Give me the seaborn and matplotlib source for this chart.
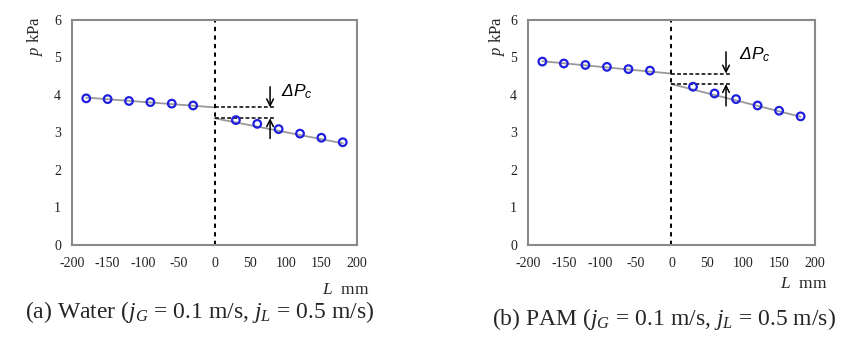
import matplotlib
matplotlib.use("Agg")
import matplotlib.pyplot as plt
import seaborn as sns
import pandas as pd

# measured points, upstream (L<0) and downstream (L>0) of the contraction
x_up = [-180, -150, -120, -90, -60, -30]
x_dn = [30, 60, 90, 120, 150, 180]
water_up = [3.91, 3.89, 3.84, 3.81, 3.77, 3.72]
water_dn = [3.33, 3.23, 3.09, 2.97, 2.86, 2.74]
pam_up = [4.89, 4.84, 4.80, 4.75, 4.69, 4.65]
pam_dn = [4.22, 4.04, 3.89, 3.72, 3.58, 3.43]

# fitted lines (end values)
fit_x_up = [-180, 0]
fit_x_dn = [0, 180]
water_fit_up = [3.93, 3.67]
water_fit_dn = [3.38, 2.71]
pam_fit_up = [4.90, 4.57]
pam_fit_dn = [4.29, 3.42]

xticks = [-200, -150, -100, -50, 0, 50, 100, 150, 200]
yticks = [0, 1, 2, 3, 4, 5, 6]

captions = [r"(a) Water ($j_G$ = 0.1 m/s, $j_L$ = 0.5 m/s)",
            r"(b) PAM ($j_G$ = 0.1 m/s, $j_L$ = 0.5 m/s)"]

sns.set_theme(style="white")
plt.rcParams["font.family"] = ["Liberation Serif", "DejaVu Serif"]
plt.rcParams["axes.unicode_minus"] = False
plt.rcParams["mathtext.fontset"] = "custom"
plt.rcParams["mathtext.rm"] = "Liberation Serif"
plt.rcParams["mathtext.it"] = "Liberation Serif:italic"
plt.rcParams["mathtext.sf"] = "Liberation Sans:italic"

fig = plt.figure(figsize=(8.44, 3.48), dpi=100)
ax_a = fig.add_axes([0.0853, 0.296, 0.3377, 0.6466])
ax_b = fig.add_axes([0.6256, 0.296, 0.340, 0.6466])

panels = [
    (ax_a, water_up, water_dn, water_fit_up, water_fit_dn, 78, 4.22, 2.84, 4.09),
    (ax_b, pam_up, pam_dn, pam_fit_up, pam_fit_dn, 76, 5.15, 3.71, 5.07),
]

for ax, up, dn, fu, fd, ax_x, top_y, bot_y, lab_y in panels:
    sns.lineplot(x=fit_x_up, y=fu, ax=ax, color="#999999", lw=1.3)
    sns.lineplot(x=fit_x_dn, y=fd, ax=ax, color="#999999", lw=1.3)
    ax.axvline(0, color="black", lw=1.4, ls=(0, (2.2, 2.2)))
    ax.plot([0, 85], [fu[-1], fu[-1]], color="black", lw=1.1, ls=(0, (2.5, 1.5)))
    ax.plot([0, 85], [fd[0], fd[0]], color="black", lw=1.1, ls=(0, (2.5, 1.5)))
    pts = pd.DataFrame({"L": x_up + x_dn, "p": up + dn})
    sns.scatterplot(data=pts, x="L", y="p", ax=ax, marker="o", s=30,
                    facecolor="none", edgecolor="#1f1fe0", linewidth=1.6, zorder=5)
    ax.annotate("", xy=(ax_x, fu[-1]), xytext=(ax_x, top_y),
                arrowprops=dict(arrowstyle="->", color="black", lw=1.1,
                                shrinkA=0, shrinkB=0))
    ax.annotate("", xy=(ax_x, fd[0]), xytext=(ax_x, bot_y),
                arrowprops=dict(arrowstyle="->", color="black", lw=1.1,
                                shrinkA=0, shrinkB=0))
    ax.text(94, lab_y, r"$\mathsf{\Delta P_c}$", fontsize=12.5, color="black",
            ha="left", va="center")

    ax.set_xlim(-200, 200)
    ax.set_ylim(0, 6)
    ax.set_xticks(xticks)
    ax.set_yticks(yticks)
    ax.set_xlabel("")
    ax.set_ylabel("")
    ax.tick_params(direction="in", length=3, width=1, color="#666666",
                   labelsize=10, labelcolor="#222222", pad=8)
    ax.tick_params(axis="x", pad=9)
    for sp in ax.spines.values():
        sp.set_color("#8a8a8a")
        sp.set_linewidth(1.5)

# axis titles and captions
fig.text(35 / 844, 1 - 36 / 348, r"$p$ kPa", rotation=90, fontsize=12,
         ha="center", va="center")
fig.text(497 / 844, 1 - 36 / 348, r"$p$ kPa", rotation=90, fontsize=12,
         ha="center", va="center")
fig.text(346 / 844, 1 - 290 / 348, r"$L$  mm", fontsize=12.5, ha="center", va="center")
fig.text(804 / 844, 1 - 284 / 348, r"$L$  mm", fontsize=12.5, ha="center", va="center")
fig.text(200 / 844, 1 - 312 / 348, captions[0], fontsize=17, ha="center", va="center")
fig.text(664 / 844, 1 - 319 / 348, captions[1], fontsize=17, ha="center", va="center")

fig.savefig("out.png", dpi=100)
